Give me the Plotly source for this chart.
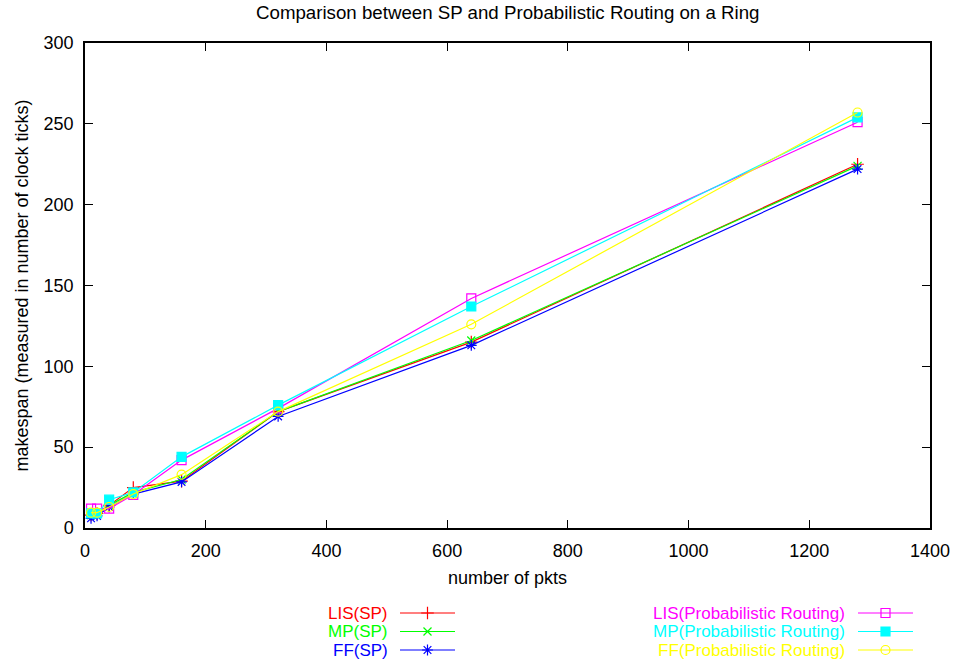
import plotly.graph_objects as go

# Number of packets injected into the ring
pkts = [10, 20, 40, 80, 160, 320, 640, 1280]

# Makespan (clock ticks) for shortest-path routing
lis_sp = [8, 9, 14, 25, 29, 72, 115, 225]
mp_sp = [8, 9, 14, 22, 30, 72, 116, 224]
ff_sp = [6, 7.5, 13, 21, 28.5, 69, 113, 222]

# Makespan (clock ticks) for probabilistic routing
lis_pr = [12, 12, 12, 20.5, 42, 74, 142, 251]
mp_pr = [9, 9, 17.5, 22, 44, 76, 137, 254]
ff_pr = [9.5, 9.5, 13, 21, 33, 72, 126, 257]

x_ticks = [0, 200, 400, 600, 800, 1000, 1200, 1400]
y_ticks = [0, 50, 100, 150, 200, 250, 300]

W, H = 953, 663
FONT = "Liberation Sans, Arial, sans-serif"

series = [
    ("LIS(SP)", lis_sp, "#ff0000", "cross-thin", 9, 0),
    ("MP(SP)", mp_sp, "#00ff00", "x-thin", 8, 0),
    ("FF(SP)", ff_sp, "#0000ff", "asterisk", 9, 0),
    ("LIS(Probabilistic Routing)", lis_pr, "#ff00ff", "square-open", 9, 1),
    ("MP(Probabilistic Routing)", mp_pr, "#00ffff", "square", 9, 1),
    ("FF(Probabilistic Routing)", ff_pr, "#ffff00", "circle-open", 9, 1),
]

fig = go.Figure()

for name, vals, color, sym, size, _ in series:
    fig.add_trace(go.Scatter(
        x=pkts, y=vals, mode="lines+markers", name=name,
        line=dict(color=color, width=1.2),
        marker=dict(symbol=sym, size=size, color=color,
                    line=dict(color=color, width=1.2)),
        showlegend=False,
    ))

# Key below the plot: label text right-aligned, followed by a line sample
# with the point symbol in its middle. Drawn on a pixel-unit overlay axis.
col_text_right = [389, 846]
col_line = [(400, 455), (858, 913)]
row_y = [613, 631.5, 650]
annotations = []
row_in_col = [0, 0]
for name, vals, color, sym, size, col in series:
    r = row_in_col[col]
    row_in_col[col] += 1
    y = row_y[r]
    x0, x1 = col_line[col]
    fig.add_trace(go.Scatter(
        x=[x0, x1], y=[y, y], mode="lines", xaxis="x2", yaxis="y2",
        line=dict(color=color, width=1.2), showlegend=False, hoverinfo="skip",
    ))
    fig.add_trace(go.Scatter(
        x=[(x0 + x1) / 2], y=[y], mode="markers", xaxis="x2", yaxis="y2",
        marker=dict(symbol=sym, size=size, color=color,
                    line=dict(color=color, width=1.2)),
        showlegend=False, hoverinfo="skip",
    ))
    annotations.append(dict(
        x=col_text_right[col], y=y, xref="x2", yref="y2", text=name,
        showarrow=False, xanchor="right", yanchor="middle",
        height=17, borderpad=0, valign="middle",
        font=dict(family=FONT, size=17, color=color),
    ))

plot_l, plot_r, plot_t, plot_b = 85, 930, 43, 528

axis_common = dict(
    showline=True, linecolor="black", linewidth=1.5, mirror="ticks",
    ticks="inside", ticklen=8, tickwidth=1, tickcolor="black",
    showgrid=False, zeroline=False,
    tickfont=dict(family=FONT, size=18, color="black"),
)

annotations.append(dict(
    x=(plot_l + plot_r) / 2, y=12, xref="x2", yref="y2",
    text="Comparison between SP and Probabilistic Routing on a Ring",
    showarrow=False, xanchor="center", yanchor="middle",
    font=dict(family=FONT, size=18.7, color="black"),
))

fig.update_layout(
    width=W, height=H, autosize=False,
    margin=dict(l=0, r=0, t=0, b=0, pad=0),
    paper_bgcolor="white", plot_bgcolor="rgba(0,0,0,0)",
    xaxis=dict(
        domain=[plot_l / W, plot_r / W], range=[0, 1400],
        tickvals=x_ticks, ticklabelstandoff=6,
        title=dict(text="number of pkts", standoff=11,
                   font=dict(family=FONT, size=18, color="black")),
        anchor="y", automargin=False,
        **axis_common,
    ),
    yaxis=dict(
        domain=[(H - plot_b) / H, (H - plot_t) / H], range=[0, 300],
        tickvals=y_ticks, ticklabelstandoff=6,
        title=dict(text="makespan (measured in number of clock ticks)", standoff=10,
                   font=dict(family=FONT, size=18, color="black")),
        anchor="x", automargin=False,
        **axis_common,
    ),
    xaxis2=dict(domain=[0, 1], range=[0, W], visible=False, anchor="y2"),
    yaxis2=dict(domain=[0, 1], range=[H, 0], visible=False, anchor="x2"),
    annotations=annotations,
)

page_css = (
    "document.documentElement.style.margin='0';"
    "document.body.style.margin='0';"
    "document.body.style.padding='0';"
    "document.body.style.overflow='hidden';"
)

fig.write_html("out.html", post_script=page_css,
               config={"responsive": False, "displayModeBar": False})
